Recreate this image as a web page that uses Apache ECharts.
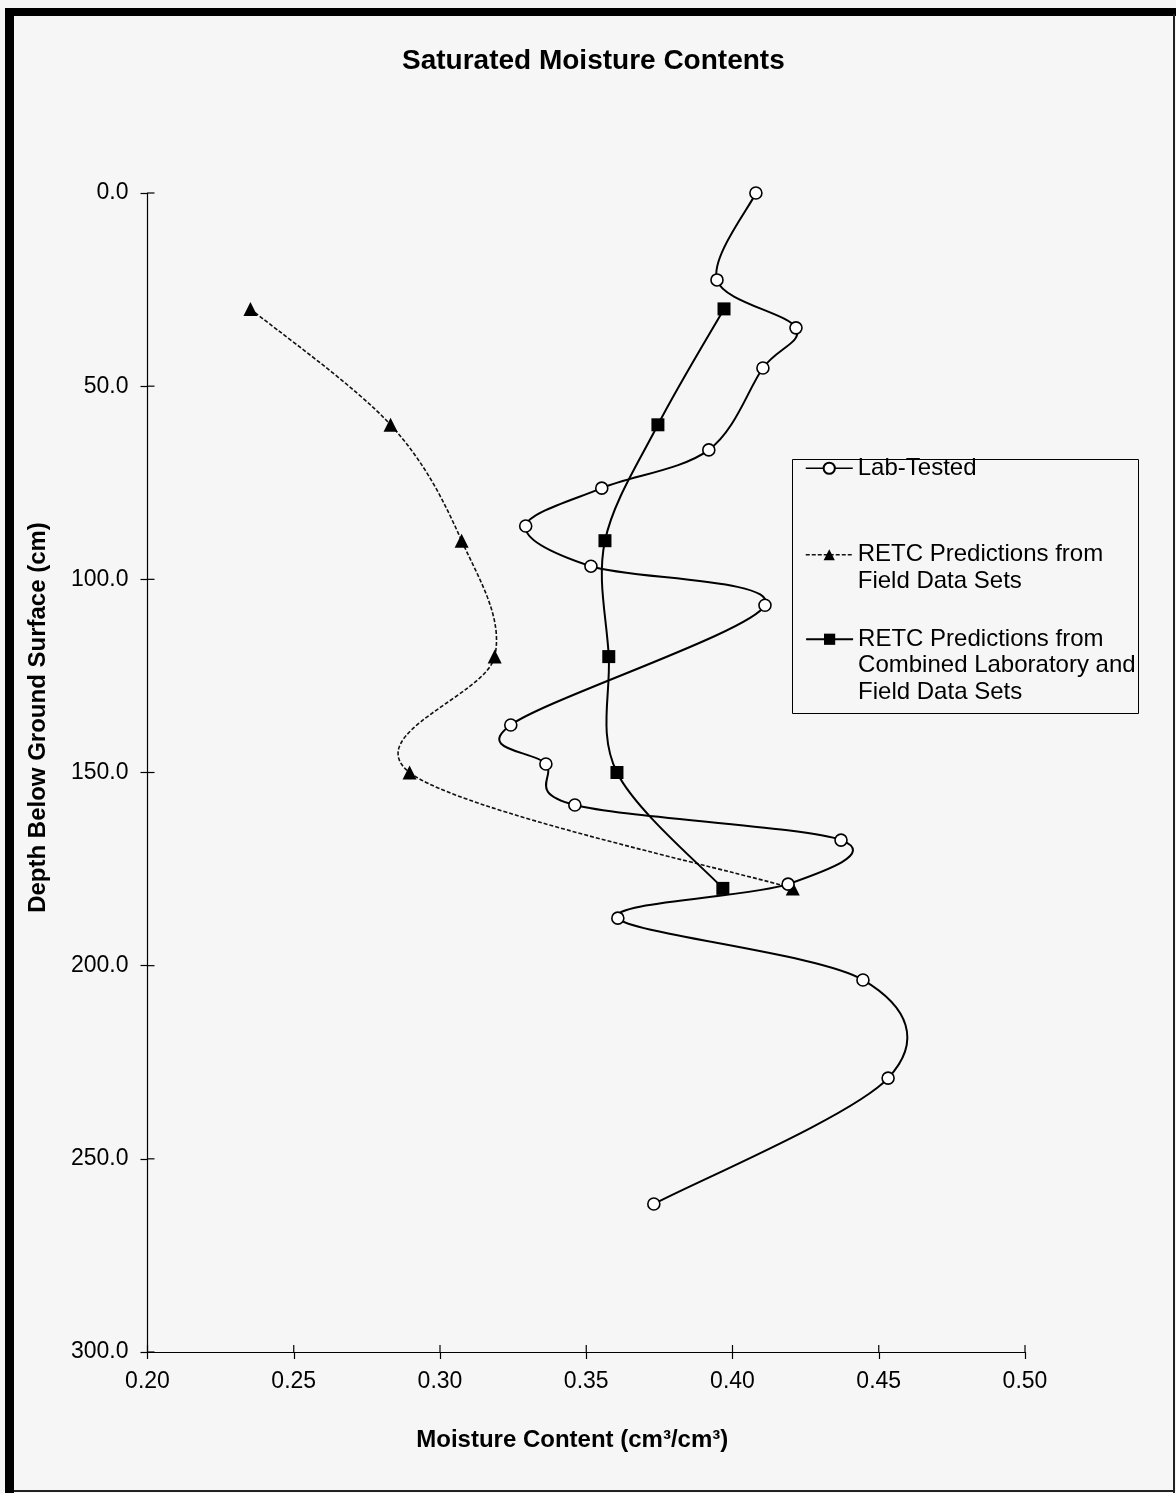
<!DOCTYPE html>
<html>
<head>
<meta charset="utf-8">
<title>Saturated Moisture Contents</title>
<script src="https://cdn.jsdelivr.net/npm/echarts@6/dist/echarts.min.js"></script>
<style>
  html, body { margin: 0; padding: 0; background: #f6f6f6; }
  #chart { width: 1176px; height: 1493px; }
</style>
</head>
<body>
<div id="chart"></div>
<script>
// Lab-tested samples: moisture content (cm3/cm3) and depth (cm)
const labMoisture = [0.408, 0.3947, 0.4217, 0.4104, 0.3919, 0.3553, 0.3293, 0.3516, 0.4111,
                     0.3242, 0.3362, 0.3461, 0.4371, 0.4190, 0.3608, 0.4446, 0.4532, 0.3731];
const labDepth = [0.0, 22.5, 34.9, 45.3, 66.5, 76.4, 86.2, 96.6, 106.7,
                  137.7, 147.8, 158.4, 167.5, 178.9, 187.7, 203.7, 229.1, 261.7];

// RETC predictions at the modelled depths
const retcDepth = [30, 60, 90, 120, 150, 180];
const retcFieldMoisture = [0.2352, 0.2831, 0.3074, 0.3187, 0.2896, 0.4206];
const retcCombinedMoisture = [0.3971, 0.3745, 0.3564, 0.3577, 0.3605, 0.3967];

const seriesNames = [
  'Lab-Tested',
  'RETC Predictions from\nField Data Sets',
  'RETC Predictions from\nCombined Laboratory and\nField Data Sets'
];

// Axis ranges and tick positions
const xMin = 0.20, xMax = 0.50, xStep = 0.05;
const yMin = 0, yMax = 300, yStep = 50;
const xTickValues = [0.20, 0.25, 0.30, 0.35, 0.40, 0.45, 0.50];
const yTickValues = [0, 50, 100, 150, 200, 250, 300];

function pairs(xs, ys) { return xs.map((v, i) => [v, ys[i]]); }

const FONT = "'Liberation Sans', Arial, sans-serif";
const TICK_LEN = 7;

// Spreadsheet-style smoothed curve: cubic Bezier segments whose tangents
// follow the neighbouring points (Catmull-Rom, factor 1/6).
function smoothCurve(xs, ys, stroke) {
  return function (params, api) {
    if (params.dataIndex !== 0) return null;
    const pts = xs.map((x, i) => api.coord([x, ys[i]]));
    const n = pts.length;
    const children = [];
    for (let i = 0; i < n - 1; i++) {
      const p0 = pts[Math.max(i - 1, 0)];
      const p1 = pts[i];
      const p2 = pts[i + 1];
      const p3 = pts[Math.min(i + 2, n - 1)];
      children.push({
        type: 'bezierCurve',
        shape: {
          x1: p1[0], y1: p1[1], x2: p2[0], y2: p2[1],
          cpx1: p1[0] + (p2[0] - p0[0]) / 6, cpy1: p1[1] + (p2[1] - p0[1]) / 6,
          cpx2: p2[0] - (p3[0] - p1[0]) / 6, cpy2: p2[1] - (p3[1] - p1[1]) / 6
        },
        style: Object.assign({ fill: 'none' }, stroke)
      });
    }
    return { type: 'group', children: children };
  };
}

// Inner halves of the cross-shaped tick marks (the axes draw the outer halves).
function innerTicks(params, api) {
  if (params.dataIndex !== 0) return null;
  const style = { stroke: '#000', lineWidth: 1.2 };
  const children = [];
  xTickValues.forEach(v => {
    const p = api.coord([v, yMax]);
    children.push({ type: 'line', shape: { x1: p[0], y1: p[1], x2: p[0], y2: p[1] - TICK_LEN }, style: style });
  });
  yTickValues.forEach(v => {
    const p = api.coord([xMin, v]);
    children.push({ type: 'line', shape: { x1: p[0], y1: p[1], x2: p[0] + TICK_LEN, y2: p[1] }, style: style });
  });
  return { type: 'group', children: children };
}

const legendText = { fontFamily: FONT, fontSize: 24, color: '#000', lineHeight: 26.5 };
const legendBase = { orient: 'vertical', left: 805, padding: 0, itemWidth: 47, itemHeight: 14, selectedMode: false };
const tickStyle = { color: '#000', width: 1.2 };

const chart = echarts.init(document.getElementById('chart'), null, { renderer: 'canvas' });

chart.setOption({
  backgroundColor: '#f6f6f6',
  animation: false,
  title: {
    text: 'Saturated Moisture Contents',
    left: 397,
    top: 42,
    textStyle: { fontFamily: FONT, fontSize: 28, fontWeight: 'bold', color: '#000' }
  },
  grid: { left: 147.5, right: 151, top: 193, bottom: 141 },
  legend: [
    Object.assign({}, legendBase, {
      data: [seriesNames[0]], top: 455,
      textStyle: legendText,
      lineStyle: { color: '#000', width: 1.5, type: 'solid', opacity: 1 }
    }),
    Object.assign({}, legendBase, {
      data: [seriesNames[1]], top: 515,
      formatter: name => '\n' + name,
      textStyle: legendText,
      lineStyle: { color: '#111', width: 1.5, type: [4, 2], opacity: 1 }
    }),
    Object.assign({}, legendBase, {
      data: [seriesNames[2]], top: 573,
      formatter: name => '\n\n' + name,
      textStyle: legendText,
      lineStyle: { color: '#000', width: 2.2, type: 'solid', opacity: 1 }
    })
  ],
  xAxis: {
    type: 'value', min: xMin, max: xMax, interval: xStep, position: 'bottom',
    name: 'Moisture Content (cm³/cm³)', nameLocation: 'middle', nameGap: 76,
    nameTextStyle: { fontFamily: FONT, fontSize: 24, fontWeight: 'bold', color: '#000', padding: [0, 28, 0, 0] },
    axisLine: { show: true, onZero: false, lineStyle: tickStyle },
    axisTick: { show: true, inside: false, length: TICK_LEN, lineStyle: tickStyle },
    axisLabel: { fontFamily: FONT, fontSize: 23, color: '#000', margin: 18,
                 formatter: v => v.toFixed(2) },
    splitLine: { show: false }
  },
  yAxis: {
    type: 'value', min: yMin, max: yMax, interval: yStep, inverse: true, position: 'left',
    name: 'Depth Below Ground Surface (cm)', nameLocation: 'middle', nameGap: 97,
    nameTextStyle: { fontFamily: FONT, fontSize: 24, fontWeight: 'bold', color: '#000', padding: [0, 0, 0, 110] },
    axisLine: { show: true, onZero: false, lineStyle: tickStyle },
    axisTick: { show: true, inside: false, length: TICK_LEN, lineStyle: tickStyle },
    axisLabel: { fontFamily: FONT, fontSize: 23, color: '#000', margin: 19,
                 formatter: v => v.toFixed(1) },
    splitLine: { show: false }
  },
  series: [
    {
      type: 'custom', coordinateSystem: 'cartesian2d', silent: true, z: 1,
      data: [[xMin, yMax]], encode: { x: 0, y: 1 },
      renderItem: innerTicks
    },
    // smoothed connecting curves
    {
      type: 'custom', coordinateSystem: 'cartesian2d', silent: true, z: 2,
      data: pairs(labMoisture, labDepth), encode: { x: 0, y: 1 },
      renderItem: smoothCurve(labMoisture, labDepth, { stroke: '#000', lineWidth: 2 })
    },
    {
      type: 'custom', coordinateSystem: 'cartesian2d', silent: true, z: 2,
      data: pairs(retcFieldMoisture, retcDepth), encode: { x: 0, y: 1 },
      renderItem: smoothCurve(retcFieldMoisture, retcDepth, { stroke: '#111', lineWidth: 1.6, lineDash: [4, 2] })
    },
    {
      type: 'custom', coordinateSystem: 'cartesian2d', silent: true, z: 2,
      data: pairs(retcCombinedMoisture, retcDepth), encode: { x: 0, y: 1 },
      renderItem: smoothCurve(retcCombinedMoisture, retcDepth, { stroke: '#000', lineWidth: 2 })
    },
    // markers
    {
      name: seriesNames[0], type: 'line', data: pairs(labMoisture, labDepth),
      symbol: 'circle', symbolSize: 12,
      itemStyle: { color: '#fff', borderColor: '#000', borderWidth: 1.6 },
      lineStyle: { color: '#000', width: 2, opacity: 0 },
      z: 4
    },
    {
      name: seriesNames[1], type: 'line', data: pairs(retcFieldMoisture, retcDepth),
      symbol: 'triangle', symbolSize: 14,
      itemStyle: { color: '#000' },
      lineStyle: { color: '#111', width: 1.6, type: [4, 2], opacity: 0 },
      z: 3
    },
    {
      name: seriesNames[2], type: 'line', data: pairs(retcCombinedMoisture, retcDepth),
      symbol: 'rect', symbolSize: 13,
      itemStyle: { color: '#000' },
      lineStyle: { color: '#000', width: 2, opacity: 0 },
      z: 3
    }
  ],
  graphic: [
    // legend frame
    { type: 'rect', shape: { x: 792.5, y: 459.5, width: 346, height: 254 },
      style: { fill: 'none', stroke: '#000', lineWidth: 1 }, z: 1 },
    // page frame
    { type: 'rect', shape: { x: 5, y: 8, width: 1171, height: 8 }, style: { fill: '#000' } },
    { type: 'rect', shape: { x: 5, y: 8, width: 9, height: 1485 }, style: { fill: '#000' } },
    { type: 'rect', shape: { x: 1173, y: 14, width: 2, height: 1479 }, style: { fill: '#222' } },
    { type: 'rect', shape: { x: 14, y: 1490, width: 1160, height: 2 }, style: { fill: '#222' } }
  ]
});
</script>
</body>
</html>
